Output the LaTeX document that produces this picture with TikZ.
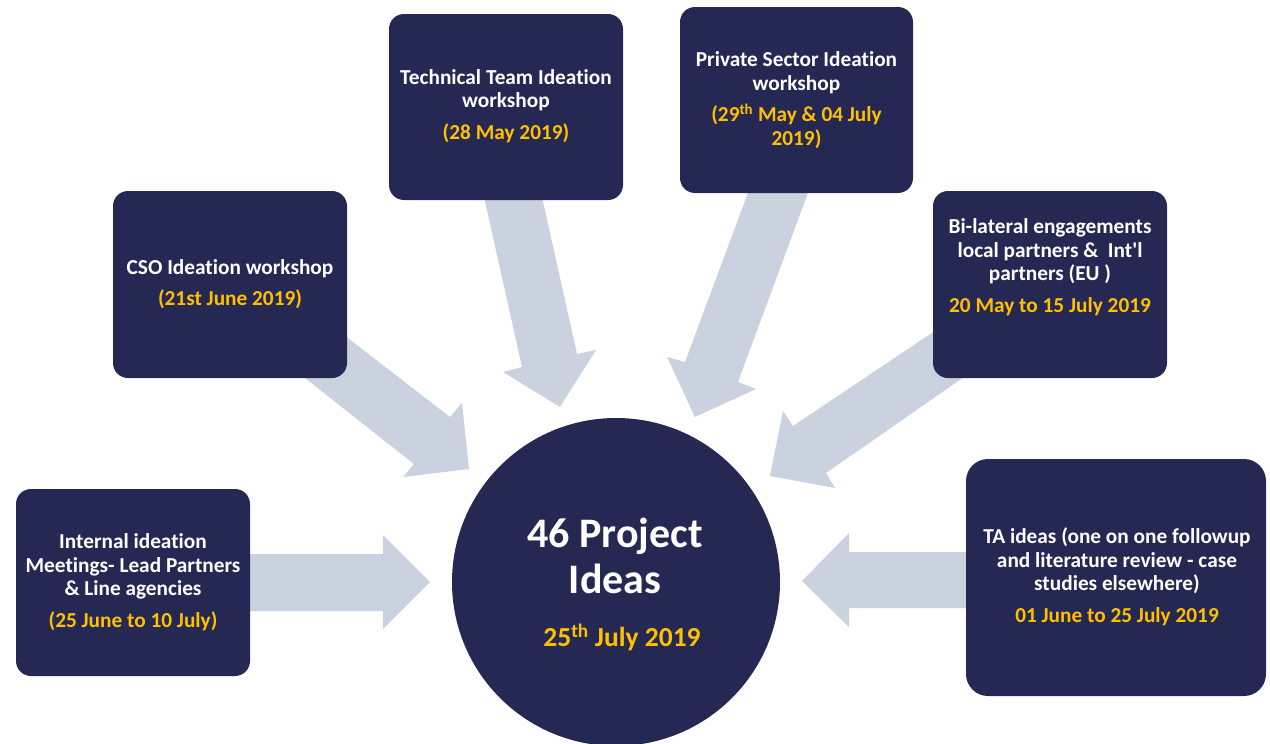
\documentclass[tikz,border=0pt]{standalone}
\usepackage{fontspec}
\setmainfont{Carlito}[Ligatures={TeXOff,NoCommon,NoContextual}]
\definecolor{navy}{HTML}{262854}
\definecolor{gold}{HTML}{FFC000}
\definecolor{arrowc}{HTML}{CBD2DF}
\begin{document}
\begin{tikzpicture}[x=1pt,y=-1pt,
  box/.style={fill=navy, draw=none, rounded corners=15pt, inner sep=0, anchor=center},
  lbl/.style={text=white, font=\bfseries\fontsize{21.3}{23.5}\selectfont, align=center, inner sep=0},
  fat/.style={fill=arrowc, draw=none}]
\useasboundingbox (0,0) rectangle (1270,744);
% big arrows (drawn first, tails hidden by boxes)
\fill[fat] (300,301) -- (450,417) -- (462,403) -- (469,469) -- (403,477) -- (414,464) -- (258,341) -- cycle;
\fill[fat] (476,161) -- (522,367) -- (503,372) -- (560,407) -- (596,350) -- (577,354) -- (534,161) -- cycle;
\fill[fat] (762,155) -- (685,362) -- (667,357) -- (695,417) -- (756,389) -- (738,382) -- (822,155) -- cycle;
\fill[fat] (990,294) -- (793,426) -- (783,411) -- (770,476) -- (835,488) -- (826,473) -- (1000,352) -- cycle;
\fill[fat] (1000,552) -- (849,552) -- (849,533) -- (802,581) -- (849,627) -- (849,608) -- (1000,608) -- cycle;
\fill[fat] (220,554) -- (383,554) -- (383,535) -- (430,582) -- (383,629) -- (383,611) -- (220,611) -- cycle;
% boxes
\node[box, minimum width=234pt, minimum height=186pt] (tech) at (506,107) {};
\node[box, minimum width=233pt, minimum height=186pt] (priv) at (796.5,100) {};
\node[box, minimum width=234pt, minimum height=187pt] (cso) at (230,284.5) {};
\node[box, minimum width=234pt, minimum height=187pt] (bil) at (1050,284.5) {};
\node[box, minimum width=234pt, minimum height=187pt] (int) at (133,582.5) {};
\node[box, rounded corners=22pt, minimum width=300pt, minimum height=237pt] (ta) at (1116,577.5) {};
\node[circle, fill=navy, draw=none, minimum size=328pt, inner sep=0] (hub) at (616,582) {};
% texts
\node[lbl] (techt) at (506,106) {Technical Team Ideation\\workshop\\[8pt]\textcolor{gold}{(28 May 2019)}};
\node[lbl] (privt) at (796.5,100) {Private Sector Ideation\\workshop\\[8pt]\textcolor{gold}{(29\textsuperscript{th} May \& 04 July}\\\textcolor{gold}{2019)}};
\node[lbl] (csot) at (230,284) {CSO Ideation workshop\\[8pt]\textcolor{gold}{(21st June 2019)}};
\node[lbl] (bilt) at (1050,267) {Bi-lateral engagements\\local partners \&\ \ Int'l\\partners (EU )\\[8pt]\textcolor{gold}{20 May to 15 July 2019}};
\node[lbl] (intt) at (133,582) {Internal ideation\\Meetings- Lead Partners\\\& Line agencies\\[8pt]\textcolor{gold}{(25 June to 10 July)}};
\node[lbl] (tat) at (1117,577) {TA ideas (one on one followup\\and literature review - case\\studies elsewhere)\\[8pt]\textcolor{gold}{01 June to 25 July 2019}};
\node[text=white, font=\bfseries\fontsize{42}{46}\selectfont, align=center, inner sep=0] (hubt) at (615,556) {46 Project\\Ideas};
\node[text=gold, font=\bfseries\fontsize{27.5}{30}\selectfont, inner sep=0] (hubd) at (622,637) {25\textsuperscript{th} July 2019};
\end{tikzpicture}
\end{document}
